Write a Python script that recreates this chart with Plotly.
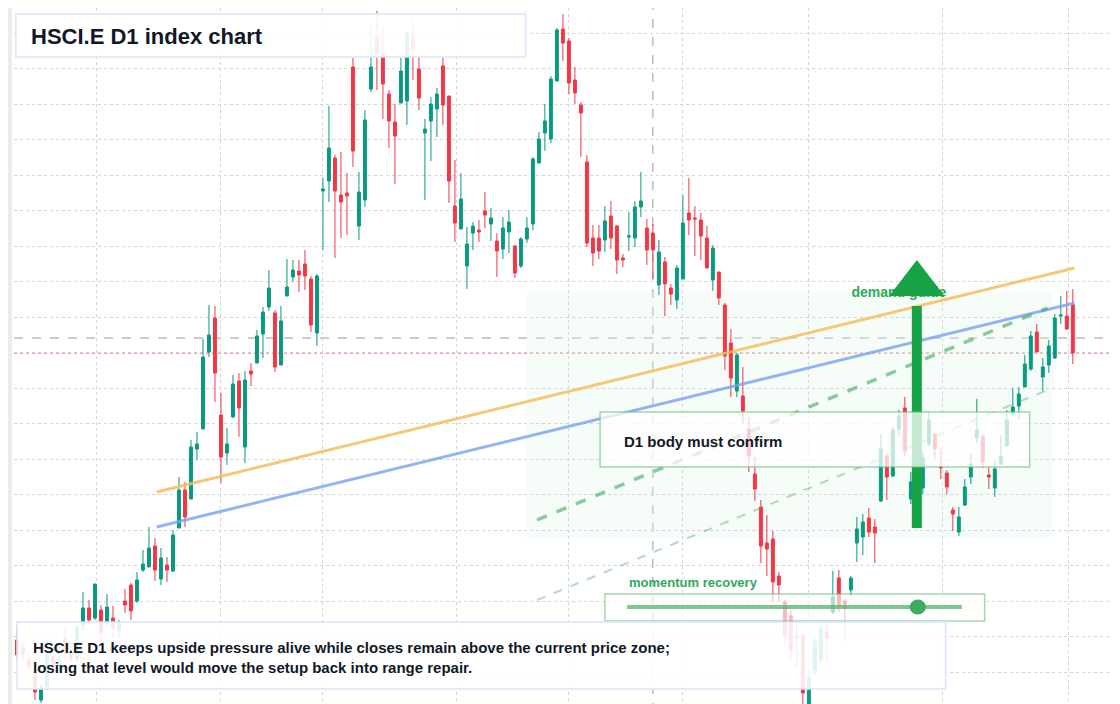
import plotly.graph_objects as go

# daily candles, HSCI.E D1
opens = [8360,8352,8339,8328,8300,8313,8343,8332,8361,8348,8340,8375,8392,8382,8390,8378,8382,8370,8399,8415,
         8399,8430,8433,8454,8421,8435,8429,8472,8510,8501,8551,8571,8648,8682,8585,8547,8583,8619,8553,8629,
         8637,8666,8693,8687,8635,8704,8723,8729,8736,8721,8667,8809,8819,8842,8805,8807,8933,8774,8800,8911,
         8962,8947,8906,8878,8897,8899,8964,8931,8867,8879,8891,8934,8904,8794,8771,8734,8767,8770,8789,8776,
         8759,8751,8768,8754,8734,8761,8776,8837,8867,8861,8919,8971,8959,8920,8895,8838,8762,8762,8760,8784,
         8774,8742,8763,8762,8793,8772,8767,8715,8738,8712,8700,8721,8787,8782,8780,8762,8720,8728,8695,8657,
         8609,8604,8571,8526,8493,8457,8461,8424,8398,8384,8362,8365,8288,8329,8340,8368,8388,8422,8399,8410,
         8457,8463,8482,8473,8499,8544,8524,8571,8592,8501,8522,8512,8556,8566,8534,8527,8490,8468,8495,8523,
         8562,8564,8525,8512,8536,8554,8586,8594,8613,8631,8668,8623,8635,8642,8684,8684,8695]
highs = [8374,8358,8345,8333,8317,8350,8345,8357,8371,8355,8378,8408,8400,8416,8395,8406,8394,8380,8411,8417,
         8428,8450,8473,8462,8452,8443,8470,8523,8518,8560,8568,8661,8695,8694,8607,8572,8625,8627,8629,8637,
         8670,8693,8730,8690,8694,8741,8740,8740,8750,8724,8726,8822,8894,8845,8848,8827,8942,8828,8890,8973,
         8989,8971,8910,8896,8942,8967,8980,8947,8881,8903,8912,8942,8904,8840,8827,8773,8778,8780,8808,8792,
         8767,8783,8790,8755,8763,8783,8843,8868,8896,8924,8972,8986,8962,8933,8898,8845,8775,8775,8794,8799,
         8775,8746,8788,8799,8828,8781,8776,8760,8743,8716,8735,8805,8822,8794,8787,8774,8755,8728,8697,8671,
         8647,8633,8583,8543,8500,8485,8469,8428,8400,8390,8377,8370,8329,8363,8377,8377,8429,8430,8401,8424,
         8483,8486,8492,8481,8566,8547,8573,8590,8603,8528,8545,8548,8588,8566,8553,8530,8493,8493,8521,8546,
         8601,8564,8534,8540,8565,8590,8612,8613,8645,8669,8676,8642,8660,8686,8704,8709,8711]
lows = [8340,8338,8330,8300,8297,8310,8332,8325,8340,8337,8338,8370,8378,8380,8360,8375,8363,8363,8387,8380,
        8397,8428,8433,8419,8415,8418,8428,8472,8473,8501,8540,8571,8643,8598,8517,8535,8582,8563,8537,8614,
        8637,8642,8689,8628,8635,8704,8718,8708,8710,8668,8654,8750,8798,8742,8762,8765,8833,8760,8793,8908,
        8910,8881,8852,8816,8897,8875,8920,8890,8800,8839,8863,8875,8797,8758,8771,8711,8750,8758,8772,8759,
        8723,8741,8747,8722,8732,8757,8770,8837,8849,8857,8919,8939,8906,8896,8843,8753,8734,8741,8748,8751,
        8726,8733,8749,8753,8783,8735,8721,8705,8684,8695,8691,8721,8765,8744,8740,8732,8709,8695,8630,8603,
        8603,8576,8528,8499,8437,8424,8398,8398,8354,8341,8333,8294,8280,8325,8338,8339,8386,8388,8359,8404,
        8438,8445,8463,8437,8498,8500,8523,8564,8544,8496,8515,8506,8554,8541,8521,8506,8469,8464,8494,8516,
        8557,8532,8511,8503,8535,8554,8586,8580,8613,8629,8648,8609,8627,8641,8676,8670,8636]
closes = [8345,8346,8334,8308,8313,8345,8334,8340,8350,8340,8373,8392,8380,8416,8367,8393,8372,8378,8395,8389,
          8420,8436,8452,8430,8442,8430,8465,8510,8483,8553,8556,8643,8665,8627,8543,8556,8616,8592,8620,8626,
          8664,8688,8712,8633,8679,8713,8730,8725,8724,8675,8724,8811,8852,8809,8798,8804,8849,8808,8880,8933,
          8946,8916,8879,8864,8929,8967,8951,8902,8871,8896,8906,8895,8819,8777,8801,8756,8774,8768,8785,8782,
          8749,8772,8778,8727,8761,8772,8841,8861,8879,8921,8970,8957,8917,8907,8887,8757,8747,8749,8779,8762,
          8740,8740,8764,8793,8799,8750,8750,8748,8716,8706,8732,8777,8780,8781,8764,8732,8752,8702,8644,8622,
          8645,8589,8544,8511,8454,8451,8418,8415,8365,8350,8364,8307,8322,8359,8371,8362,8403,8394,8392,8422,
          8471,8478,8468,8467,8551,8523,8570,8584,8549,8518,8538,8542,8580,8551,8532,8513,8486,8483,8513,8536,
          8570,8538,8523,8531,8544,8580,8593,8606,8636,8664,8648,8633,8654,8682,8685,8671,8647]
bars = list(range(len(closes)))

month_ticks = [13.2, 34, 51, 73.2, 92, 111, 132, 154.2, 175.2]

# overlays
orange_line = ([23.3, 176.3], [8508, 8732])
blue_line = ([23.3, 176.3], [8473, 8697])
green_dash = ([86.7, 171.8], [8480, 8692])
green_dash_thin = ([86.7, 171.8], [8400, 8610])
crosshair_bar = 106
crosshair_price = 8662
arrow_bar = 150
arrow_from, arrow_to = 8472, 8716

GREEN = "#089981"
RED = "#f23645"

fig = go.Figure()
fig.add_trace(go.Candlestick(
    x=bars, open=opens, high=highs, low=lows, close=closes,
    increasing=dict(line=dict(color=GREEN, width=1), fillcolor=GREEN),
    decreasing=dict(line=dict(color=RED, width=1), fillcolor=RED),
    whiskerwidth=0, showlegend=False, hoverinfo="skip"))

fig.add_trace(go.Scatter(x=orange_line[0], y=orange_line[1], mode="lines",
                         line=dict(color="rgba(246,190,90,0.85)", width=3), showlegend=False))
fig.add_trace(go.Scatter(x=blue_line[0], y=blue_line[1], mode="lines",
                         line=dict(color="rgba(120,160,240,0.8)", width=3), showlegend=False))
fig.add_trace(go.Scatter(x=green_dash[0], y=green_dash[1], mode="lines",
                         line=dict(color="rgba(60,170,90,0.6)", width=3.5, dash="dash"), showlegend=False))
fig.add_trace(go.Scatter(x=green_dash_thin[0], y=green_dash_thin[1], mode="lines",
                         line=dict(color="rgba(60,170,90,0.4)", width=2, dash="dash"), showlegend=False))
# label sits under the arrow
fig.add_trace(go.Scatter(x=[147], y=[8707], mode="text", text=["<b>demand guide</b>"],
                         textfont=dict(size=14, color="#2eaa55"), showlegend=False))
# big up arrow
fig.add_trace(go.Scatter(x=[arrow_bar, arrow_bar], y=[arrow_from, arrow_to - 22], mode="lines",
                         line=dict(color="#18a346", width=10), showlegend=False))
fig.add_trace(go.Scatter(x=[arrow_bar], y=[arrow_to], mode="markers",
                         marker=dict(symbol="triangle-up", size=48, color="#18a346"), showlegend=False))

shapes = [
    # left gutter strip
    dict(type="rect", xref="paper", yref="paper", x0=-0.006, x1=-0.0018, y0=0, y1=1,
         fillcolor="#ececec", line_width=0, layer="below"),
    # demand zone
    dict(type="rect", x0=85, x1=172.5, y0=8462, y1=8708, fillcolor="rgba(225,245,228,0.3)",
         line_width=0, layer="below"),
    # crosshair
    dict(type="line", x0=crosshair_bar, x1=crosshair_bar, yref="paper", y0=0, y1=1,
         line=dict(color="#9a9a9a", width=1, dash="dash"), layer="below"),
    dict(type="line", xref="paper", x0=0, x1=1, y0=crosshair_price, y1=crosshair_price,
         line=dict(color="#9a9a9a", width=1, dash="dash"), layer="below"),
    dict(type="line", xref="paper", x0=0, x1=1, y0=closes[-1], y1=closes[-1],
         line=dict(color=RED, width=1, dash="dot"), layer="below"),
    # boxes
    dict(type="rect", x0=97.2, x1=168.8, y0=8533, y1=8588, fillcolor="rgba(255,255,255,0.75)",
         line=dict(color="rgba(100,190,120,0.6)", width=1.5), layer="above"),
    dict(type="rect", x0=98, x1=161.3, y0=8379, y1=8406, fillcolor="rgba(255,255,255,0.65)",
         line=dict(color="rgba(100,190,120,0.6)", width=1.5), layer="above"),
    dict(type="line", x0=101.7, x1=157.5, y0=8393, y1=8393,
         line=dict(color="rgba(80,180,100,0.75)", width=4), layer="above"),
    dict(type="circle", x0=148.8, x1=151.5, y0=8385.5, y1=8400.5,
         fillcolor="#3dac5e", line_width=0, layer="above"),
    dict(type="rect", x0=-0.2, x1=84.8, y0=8943, y1=8986, fillcolor="rgba(255,255,255,0.9)",
         line=dict(color="#dbe6fb", width=1.5), layer="above"),
    dict(type="rect", x0=0, x1=154.8, y0=8311, y1=8378, fillcolor="rgba(255,255,255,0.88)",
         line=dict(color="#dbe6fb", width=1.5), layer="above"),
]

annotations = [
    dict(x=2.0, y=8964, text="<b>HSCI.E D1 index chart</b>", showarrow=False, xanchor="left",
         font=dict(size=22, color="#111827")),
    dict(x=2.3, y=8343, text="<b>HSCI.E D1 keeps upside pressure alive while closes remain above the current price zone;<br>"
                             "losing that level would move the setup back into range repair.</b>",
         showarrow=False, xanchor="left", align="left", font=dict(size=15, color="#111827")),
    dict(x=100.8, y=8559, text="<b>D1 body must confirm</b>", showarrow=False, xanchor="left",
         font=dict(size=15, color="#111827")),
    dict(x=101.7, y=8418, text="<b>momentum recovery</b>", showarrow=False, xanchor="left",
         font=dict(size=13, color="#2eaa55")),
    dict(xref="paper", x=0.9995, y=crosshair_price, text="<b>8662.0</b>", showarrow=False,
         xanchor="left", bgcolor="#111", font=dict(size=12, color="white"), borderpad=3),
]

fig.update_layout(
    width=1120, height=704, margin=dict(l=6, r=0, t=0, b=0),
    paper_bgcolor="white", plot_bgcolor="white",
    shapes=shapes, annotations=annotations,
    font=dict(family="Liberation Sans, Arial, sans-serif"),
    xaxis=dict(range=[-0.5, 185.2], tickvals=month_ticks, showticklabels=False, ticks="",
               showgrid=True, gridcolor="#d4d4d4", griddash="dot", zeroline=False,
               rangeslider=dict(visible=False), showline=False),
    yaxis=dict(range=[8288, 8992], tick0=8328, dtick=35.5, showticklabels=False, ticks="",
               showgrid=True, gridcolor="#d4d4d4", griddash="dot", zeroline=False, showline=False),
)

fig.write_html("out.html")
